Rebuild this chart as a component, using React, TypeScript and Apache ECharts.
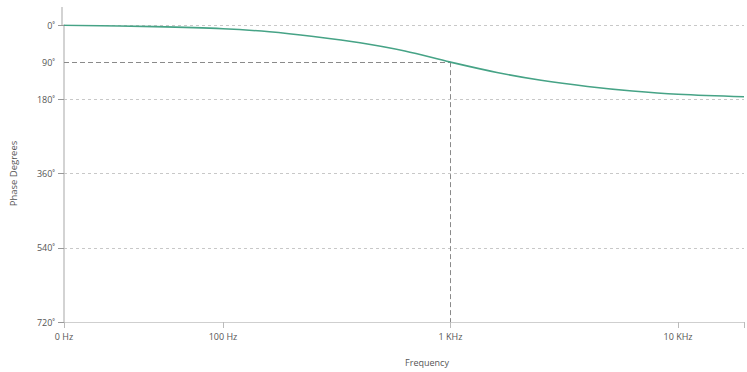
import React, { useEffect, useRef } from "react";
import * as echarts from "echarts";

const freqHz = [20, 50, 100, 160, 250, 400, 630, 1000, 1600, 2500, 4000, 6300, 10000, 19500];
const phaseDeg = [0.5, 4, 9, 16.5, 28, 43, 63, 90, 115, 134, 149, 160, 168, 174];
const yTicks = [0, 180, 360, 540, 720];
const markFreq = 1000;
const markPhase = 90;
const xLabels: Record<number, string> = { 20: "0 Hz", 100: "100 Hz", 1000: "1 KHz", 10000: "10 KHz" };

const FONT = "'Open Sans', 'DejaVu Sans', sans-serif";

export default function App() {
  const ref = useRef<HTMLDivElement>(null);
  useEffect(() => {
    if (!ref.current) return;
    const chart = echarts.init(ref.current, undefined, { renderer: "svg" });
    const gridLeft = 62;
    const gridTop = 25;
    chart.setOption({
      animation: false,
      backgroundColor: "#ffffff",
      grid: { left: gridLeft, right: 0, top: gridTop, bottom: 48 },
      graphic: [
        {
          type: "line",
          shape: { x1: gridLeft, y1: 7, x2: gridLeft, y2: gridTop },
          style: { stroke: "#c4c4c4", lineWidth: 1.5 },
        },
      ],
      xAxis: {
        type: "log",
        logBase: 10,
        min: 20,
        max: 19500,
        name: "Frequency",
        nameLocation: "middle",
        nameGap: 36,
        nameTextStyle: { fontFamily: FONT, fontSize: 9, color: "#555", padding: [0, 0, 0, 46] },
        axisLine: { onZero: false, lineStyle: { color: "#cfcfcf", width: 1 } },
        axisTick: { show: true, length: 6, lineStyle: { color: "#bbb" } },
        axisLabel: {
          fontFamily: FONT,
          fontSize: 9,
          color: "#555",
          margin: 10,
          formatter: (v: number) => {
            const r = Math.round(v);
            return xLabels[r] ?? "";
          },
        },
        splitLine: { show: false },
      },
      yAxis: {
        type: "value",
        inverse: true,
        min: 0,
        max: 720,
        interval: 180,
        name: "Phase Degrees",
        nameLocation: "middle",
        nameGap: 46,
        nameTextStyle: { fontFamily: FONT, fontSize: 9.5, color: "#555" },
        axisLine: { show: true, onZero: false, lineStyle: { color: "#c4c4c4", width: 1.5 } },
        axisTick: { show: true, length: 6, lineStyle: { color: "#999" } },
        axisLabel: {
          fontFamily: FONT,
          fontSize: 9,
          color: "#555",
          margin: 9,
          formatter: (v: number) => (yTicks.includes(v) ? v + "˚" : ""),
        },
        splitLine: { show: true, lineStyle: { color: "#c8c8c8", type: [3, 3], width: 1 } },
      },
      series: [
        {
          type: "line",
          data: freqHz.map((f, i) => [f, phaseDeg[i]]),
          smooth: 0.35,
          showSymbol: false,
          symbol: "none",
          lineStyle: { color: "#46a386", width: 1.6 },
          z: 5,
          markLine: {
            silent: true,
            symbol: "none",
            animation: false,
            lineStyle: { color: "#8a8a8a", type: [5, 3], width: 1 },
            data: [
              [
                { coord: [20, markPhase], label: { show: true, position: "start", formatter: markPhase + "˚", distance: 9, fontFamily: FONT, fontSize: 9, color: "#555" } },
                { coord: [markFreq, markPhase] },
              ],
              [
                { coord: [markFreq, markPhase], label: { show: false } },
                { coord: [markFreq, 720] },
              ],
            ],
          },
        },
      ],
    });
    return () => chart.dispose();
  }, []);
  return <div ref={ref} style={{ position: "fixed", left: 0, top: 0, width: 747, height: 372 }} />;
}
